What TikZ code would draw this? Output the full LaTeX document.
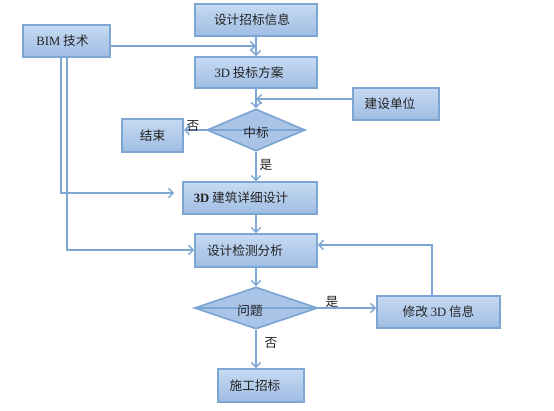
\documentclass[tikz,border=0pt]{standalone}
\usepackage{fontspec}
\setmainfont{Liberation Serif}
\newfontfamily\cjk{Noto Sans CJK SC}
\usetikzlibrary{arrows.meta,shapes.geometric}
\definecolor{ln}{HTML}{7EA6D3}
\definecolor{bt}{HTML}{C6DAF2}
\definecolor{bb}{HTML}{9FBDE3}
\definecolor{df}{HTML}{A9C4E7}
\definecolor{tx}{HTML}{222222}
\begin{document}
\begin{tikzpicture}[x=0.75pt,y=-0.75pt,
  txt/.style={text=tx, font=\fontsize{9.5}{11}\selectfont\cjk},
  box/.style={txt, draw=ln, line width=1.3pt, top color=bt, bottom color=bb, inner sep=0pt},
  sz/.style 2 args={minimum width=#1*0.75pt, minimum height=#2*0.75pt},
  dia/.style={diamond, draw=ln, line width=1.3pt, fill=df, inner sep=0pt, aspect=2.3},
  lsh/.style={execute at end node={\hspace*{#1}}},
  arr/.style={draw=ln, line width=1.1pt, -{Straight Barb[length=3.5pt,width=7pt,line width=1.1pt]}}]
\useasboundingbox (0,0) rectangle (554,411);
\fill[white] (0,0) rectangle (554,411);
% nodes
\node[box, sz={122}{32}, lsh=6pt] (xx) at (256,20) {设计招标信息};
\node[box, sz={87}{32}, lsh=6pt] (bim) at (66.5,41) {{\rmfamily BIM} 技术};
\node[box, sz={122}{31}, lsh=10.5pt] (tb) at (256,72.5) {{\rmfamily 3D} 投标方案};
\node[dia, sz={98}{42}] (zb) at (256,130) {};
\node[box, sz={61}{33}] (js) at (152.5,135.5) {结束};
\node[box, sz={86}{32}, lsh=9pt] (dw) at (396,104) {建设单位};
\node[box, sz={134}{32}, lsh=13.5pt] (jz) at (250,198) {{\rmfamily\bfseries 3D} 建筑详细设计};
\node[box, sz={122}{33}, lsh=16.5pt] (jc) at (256,250.5) {设计检测分析};
\node[dia, sz={123}{42}] (wt) at (256,308) {};
\node[box, sz={123}{32}] (xg) at (438.5,312) {修改 {\rmfamily 3D} 信息};
\node[box, sz={86}{33}, lsh=9pt] (sg) at (261,385.5) {施工招标};
% coordinates
\coordinate (b1) at (110,46);
\coordinate (b1e) at (256,46);
\coordinate (v1) at (61,57);
\coordinate (v1b) at (61,193);
\coordinate (v2) at (67,57);
\coordinate (v2b) at (67,250);
\coordinate (dwa) at (353,99);
\coordinate (dwe) at (256,99);
\coordinate (xgt) at (432,296);
\coordinate (xgu) at (432,245);
% connectors
\draw[arr] (xx.south) -- (tb.north);
\draw[arr] (b1) -- (b1e);
\draw[arr] (tb.south) -- (zb.north);
\draw[arr] (dwa) -- (dwe);
\draw[arr] (zb.east) -- (zb.east -| js.east);
\draw[arr] (zb.south) -- (zb.south |- jz.north);
\draw[arr, shorten >=6pt] (v1) -- (v1b) -- (v1b -| jz.west);
\draw[arr] (v2) -- (v2b) -- (v2b -| jc.west);
\draw[arr] (jz.south -| jc.north) -- (jc.north);
\draw[arr] (jc.south) -- (wt.north);
\draw[arr] (wt.west) -- (wt.west -| xg.west);
\draw[arr] (wt.south) -- (wt.south |- sg.north);
\draw[arr] (xgt) -- (xgu) -- (xgu -| jc.east);
% diamond texts (over the line that crosses them)
\node[txt, inner sep=0pt] (zbt) at ([yshift=-3*0.75pt]zb.center) {中标};
\node[txt, inner sep=0pt] (wtt) at ([xshift=-6*0.75pt, yshift=-3*0.75pt]wt.center) {问题};
% labels
\node[txt, inner sep=0pt] (l1) at (193,126) {否};
\node[txt, inner sep=0pt] (l2) at (266,165) {是};
\node[txt, inner sep=0pt] (l3) at (332,302) {是};
\node[txt, inner sep=0pt] (l4) at (271,343) {否};
\end{tikzpicture}
\end{document}
